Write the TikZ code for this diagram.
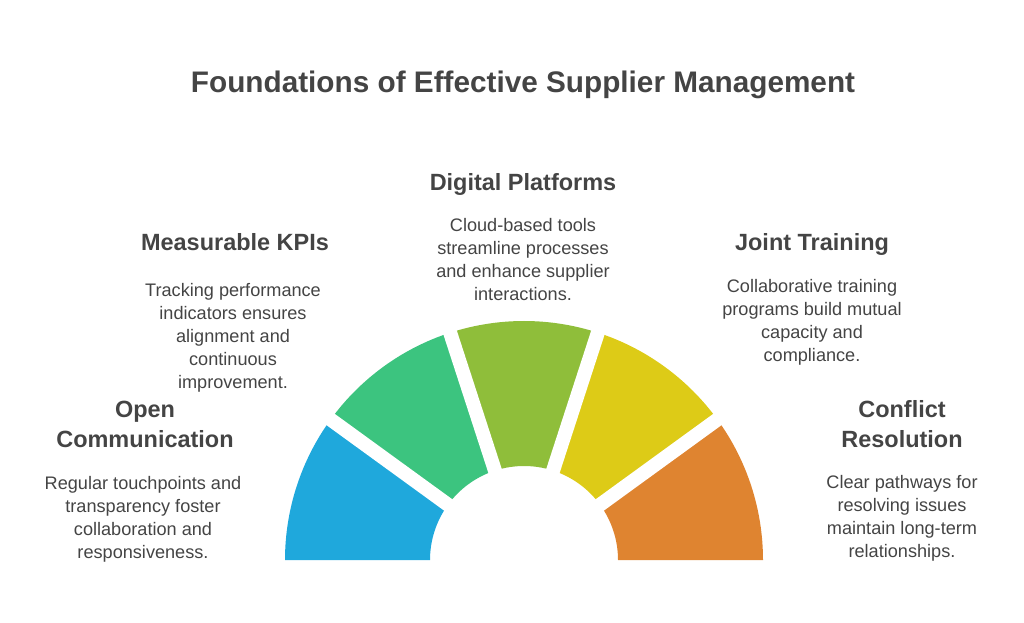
\documentclass[tikz,border=0pt]{standalone}
\usepackage{fontspec}
\setmainfont{Liberation Sans}
\usetikzlibrary{calc}
\definecolor{cA}{HTML}{1FA8DC}
\definecolor{cB}{HTML}{3CC47F}
\definecolor{cC}{HTML}{8FBE3A}
\definecolor{cD}{HTML}{DDCB17}
\definecolor{cE}{HTML}{DF8430}
\definecolor{txt}{HTML}{444444}
\begin{document}
\begin{tikzpicture}[x=0.75pt,y=-0.75pt,
  head/.style={font=\bfseries\fontsize{17.6}{22.5}\selectfont,text=txt,align=center,anchor=north},
  body/.style={font=\fontsize{13.6}{17.25}\selectfont,text=txt,align=center,anchor=north},
  gap/.style={white,line width=10.5pt}]
\useasboundingbox (0,0) rectangle (1024,623);
\coordinate (c) at (524,560);
\foreach \a/\col in {180/cA,144/cB,108/cC,72/cD,36/cE}{
  \fill[\col] ($(c)+({\a}:239 and -239)$) arc[start angle=\a,delta angle=-36,x radius=239,y radius=-239]
    -- ($(c)+({\a-36}:94 and -94)$) arc[start angle=\a-36,delta angle=36,x radius=94,y radius=-94] -- cycle;
}
\foreach \a in {144,108,72,36}{
  \draw[gap] ($(c)+({\a}:80 and -80)$) -- ($(c)+({\a}:260 and -260)$);
}
\node[font=\bfseries\fontsize{22.3}{26}\selectfont,text=txt] (t) at (523,85) {Foundations of Effective Supplier Management};
\node[head] (h1) at (145,396) {Open\\Communication};
\node[body] (b1) at (143,472) {Regular touchpoints and\\transparency foster\\collaboration and\\responsiveness.};
\node[head] (h2) at (235,229) {Measurable KPIs};
\node[body] (b2) at (233,279) {Tracking performance\\indicators ensures\\alignment and\\continuous\\improvement.};
\node[head] (h3) at (523,169) {Digital Platforms};
\node[body] (b3) at (523,214) {Cloud-based tools\\streamline processes\\and enhance supplier\\interactions.};
\node[head] (h4) at (812,229) {Joint Training};
\node[body] (b4) at (812,275) {Collaborative training\\programs build mutual\\capacity and\\compliance.};
\node[head] (h5) at (902,396) {Conflict\\Resolution};
\node[body] (b5) at (902,471) {Clear pathways for\\resolving issues\\maintain long-term\\relationships.};
\end{tikzpicture}
\end{document}
